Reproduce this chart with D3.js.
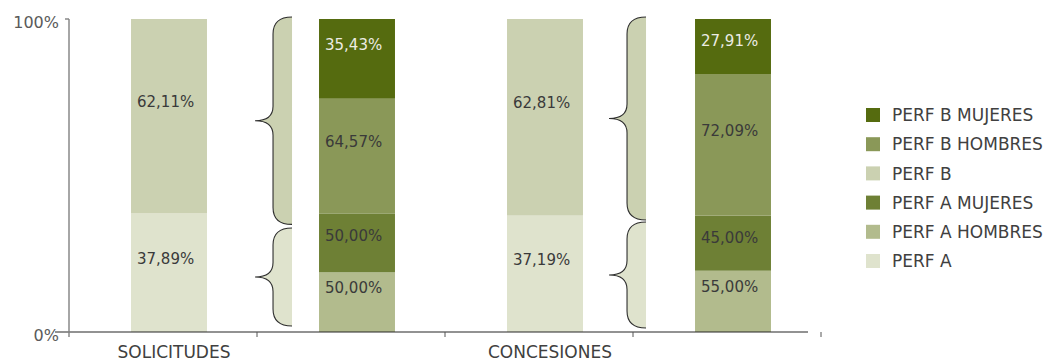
<!DOCTYPE html>
<html>
<head>
<meta charset="utf-8">
<script src="https://cdn.jsdelivr.net/npm/d3@7"></script>
<style>
  html, body { margin: 0; padding: 0; background: #fff; }
  svg { display: block; font-family: "DejaVu Sans", sans-serif; }
</style>
</head>
<body>
<svg id="chart" width="1045" height="362"></svg>
<script>
// ---------------- DATA ----------------
const groups = ["SOLICITUDES", "CONCESIONES"];
// total bars (share of all, %)
const perfA = [37.89, 37.19];
const perfB = [62.11, 62.81];
// breakdown bars: segment sizes as drawn (share of all, %)
const perfAHombres = [19.07, 19.58];
const perfAMujeres = [18.82, 17.61];
const perfBHombres = [36.65, 45.24];
const perfBMujeres = [25.46, 17.57];
// displayed percentages inside the breakdown bars
const pctAHombres = [50.00, 55.00];
const pctAMujeres = [50.00, 45.00];
const pctBHombres = [64.57, 72.09];
const pctBMujeres = [35.43, 27.91];
const yTicks = [0, 100];
const legendNames = ["PERF B MUJERES", "PERF B HOMBRES", "PERF B", "PERF A MUJERES", "PERF A HOMBRES", "PERF A"];

// ---------------- STYLE ----------------
const colors = {
  "PERF B MUJERES": "#556b0f",
  "PERF B HOMBRES": "#8a9858",
  "PERF B": "#cbd1b1",
  "PERF A MUJERES": "#6e8035",
  "PERF A HOMBRES": "#b2bb8d",
  "PERF A": "#dfe3cd"
};
const labelColor = { "PERF B MUJERES": "#ecece4" };
const fmt = v => d3.format(".2f")(v).replace(".", ",") + "%";

const svg = d3.select("#chart");
const y = d3.scaleLinear().domain([0, 100]).range([332, 19]);
const slots = d3.range(groups.length * 2);
const x = d3.scaleBand().domain(slots).range([69, 821]);
const barW = x.bandwidth() * 0.404;
const barX = i => x(i) + (x.bandwidth() - barW) / 2 + 6;

// ---------------- BUILD STACKS ----------------
const bars = [];
groups.forEach((g, gi) => {
  bars.push({ slot: gi * 2, segs: [
    { key: "PERF A", v: perfA[gi], label: fmt(perfA[gi]) },
    { key: "PERF B", v: perfB[gi], label: fmt(perfB[gi]) }
  ]});
  bars.push({ slot: gi * 2 + 1, segs: [
    { key: "PERF A HOMBRES", v: perfAHombres[gi], label: fmt(pctAHombres[gi]) },
    { key: "PERF A MUJERES", v: perfAMujeres[gi], label: fmt(pctAMujeres[gi]) },
    { key: "PERF B HOMBRES", v: perfBHombres[gi], label: fmt(pctBHombres[gi]) },
    { key: "PERF B MUJERES", v: perfBMujeres[gi], label: fmt(pctBMujeres[gi]) }
  ]});
});
bars.forEach(b => {
  let acc = 0;
  b.segs.forEach((s, i) => { s.y0 = acc; acc += s.v; s.y1 = acc; s.bottom = i === 0; });
});

// ---------------- BRACES ----------------
const braceGap = [27, 49];
const braceLayout = [
  { top: [-2, 11], bot: [14.6, -6] },
  { top: [-2, 4.4], bot: [6.4, -4] }
];
function bracePaths(xR, yT, yB) {
  const xS = xR - 19, xP = xR - 37, r = 17, r2 = 14.5, ym = (yT + yB) / 2;
  const p = `M${xR},${yT} Q${xS},${yT} ${xS},${yT + r} L${xS},${ym - r2} Q${xS},${ym} ${xP},${ym} Q${xS},${ym} ${xS},${ym + r2} L${xS},${yB - r} Q${xS},${yB} ${xR},${yB}`;
  return { fill: p + " Z", stroke: p };
}
groups.forEach((g, gi) => {
  const xR = barX(gi * 2 + 1) - braceGap[gi];
  const L = braceLayout[gi];
  const parts = [
    { yT: y(100) + L.top[0], yB: y(perfA[gi]) + L.top[1], c: colors["PERF B"] },
    { yT: y(perfA[gi]) + L.bot[0], yB: y(0) + L.bot[1], c: colors["PERF A"] }
  ];
  parts.forEach(p => {
    const bp = bracePaths(xR, p.yT, p.yB);
    svg.append("path").attr("d", bp.fill).attr("fill", p.c).attr("stroke", "none");
    svg.append("path").attr("d", bp.stroke).attr("fill", "none").attr("stroke", "#2e2e2e").attr("stroke-width", 1.1);
  });
});

// ---------------- BARS ----------------
const bg = svg.selectAll("g.bar").data(bars).join("g").attr("class", "bar");
bg.selectAll("rect").data(b => b.segs.map(s => ({ ...s, slot: b.slot }))).join("rect")
  .attr("x", d => barX(d.slot))
  .attr("width", barW)
  .attr("y", d => y(d.y1))
  .attr("height", d => y(d.y0) - y(d.y1))
  .attr("fill", d => colors[d.key]);

bg.selectAll("text").data(b => b.segs.map(s => ({ ...s, slot: b.slot }))).join("text")
  .attr("x", d => barX(d.slot) + 6)
  .attr("y", d => {
    const top = y(d.y1), c = (y(d.y0) + y(d.y1)) / 2 - 14.5;
    const cy = d.bottom ? c : Math.max(c, top + 22);
    return cy + 5.4;
  })
  .attr("font-size", 15)
  .attr("fill", d => labelColor[d.key] || "#3a3a3a")
  .text(d => d.label);

// ---------------- AXES ----------------
const edges = slots.map(i => x(i)).concat([x.range()[1]]);
svg.append("line").attr("x1", 55).attr("x2", 808).attr("y1", y(0)).attr("y2", y(0))
  .attr("stroke", "#262626").attr("stroke-width", 1.2);
svg.selectAll("line.xt").data(edges.slice(1)).join("line").attr("class", "xt")
  .attr("x1", d => d).attr("x2", d => d).attr("y1", y(0)).attr("y2", y(0) + 5)
  .attr("stroke", "#555").attr("stroke-width", 1);
svg.append("line").attr("x1", 69).attr("x2", 69).attr("y1", y(100)).attr("y2", y(0) + 5)
  .attr("stroke", "#808080").attr("stroke-width", 1.4);
svg.append("line").attr("x1", 65).attr("x2", 69).attr("y1", y(100)).attr("y2", y(100))
  .attr("stroke", "#808080").attr("stroke-width", 1.4);
svg.selectAll("text.yt").data(yTicks).join("text").attr("class", "yt")
  .attr("x", 59).attr("y", d => y(d) + 8.5)
  .attr("text-anchor", "end").attr("font-size", 16).attr("fill", "#5a5a5a")
  .text(d => d + "%");

svg.selectAll("text.cat").data(groups).join("text").attr("class", "cat")
  .attr("x", (g, gi) => barX(gi * 2) + barW / 2 + 5)
  .attr("y", 358)
  .attr("text-anchor", "middle").attr("font-size", 17).attr("fill", "#404040")
  .text(d => d);

// ---------------- LEGEND ----------------
const lg = svg.selectAll("g.leg").data(legendNames).join("g").attr("class", "leg")
  .attr("transform", (d, i) => `translate(866, ${115 + i * 29.2})`);
lg.append("rect").attr("x", 0).attr("y", -7).attr("width", 14).attr("height", 14)
  .attr("fill", d => colors[d]);
lg.append("text").attr("x", 26).attr("y", 6.2).attr("font-size", 17).attr("fill", "#404040")
  .text(d => d);
</script>
</body>
</html>
